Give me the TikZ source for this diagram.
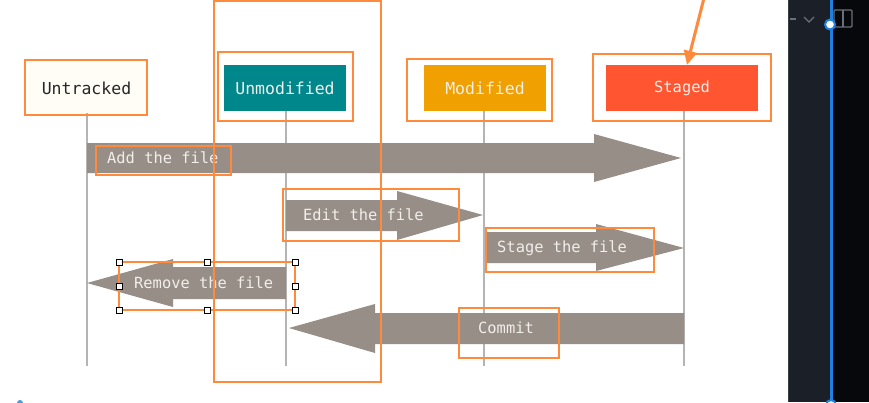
\documentclass[tikz,border=0pt]{standalone}
\usepackage{fontspec}
\newfontfamily\monofnt{DejaVu Sans Mono}
\usetikzlibrary{arrows.meta}
\definecolor{arrowgrey}{HTML}{968E87}
\definecolor{lifegrey}{HTML}{B4B4B4}
\definecolor{annot}{HTML}{FF8A3C}
\definecolor{tealc}{HTML}{00878C}
\definecolor{goldc}{HTML}{F0A000}
\definecolor{redc}{HTML}{FF5530}
\definecolor{creamc}{HTML}{FFFDF6}
\definecolor{panelc}{HTML}{1B1F28}
\definecolor{panelk}{HTML}{06080B}
\definecolor{panelline}{HTML}{3A3F48}
\definecolor{bluec}{HTML}{1E80E0}
\definecolor{iconc}{HTML}{6A6F78}
\definecolor{lighttext}{HTML}{F2EEEA}
\tikzset{
  header/.style={inner sep=0pt, font=\monofnt\fontsize{16.5}{18}\selectfont},
  lifeline/.style={draw=lifegrey, line width=1.2pt},
  blockarrow/.style={fill=arrowgrey, draw=none},
  arrowlabel/.style={text=lighttext, inner sep=0pt, font=\monofnt\fontsize{15.4}{17}\selectfont},
  annotbox/.style={draw=annot, line width=2.2pt},
  handle/.style={draw=black, fill=white, line width=0.8pt, minimum size=6pt, inner sep=0pt},
}
\begin{document}
\begin{tikzpicture}[x=1pt,y=-1pt]
\useasboundingbox (0,0) rectangle (869,402);
\fill[white] (0,0) rectangle (869,402);

% header nodes
\node[header, fill=creamc, text=black!85, minimum width=117pt, minimum height=50pt] (untracked) at (86.5,88) {Untracked};
\node[header, fill=tealc, text=lighttext, minimum width=122pt, minimum height=46pt] (unmodified) at (285,88) {Unmodified};
\node[header, fill=goldc, text=lighttext, minimum width=122pt, minimum height=46pt] (modified) at (485,88) {Modified};
\node[header, fill=redc, text=lighttext, minimum width=152pt, minimum height=46pt, font=\monofnt\fontsize{15.4}{17}\selectfont] (staged) at (682,88) {Staged};

% lifeline ends
\coordinate (e1) at (87,366);
\coordinate (e2) at (286,366);
\coordinate (e3) at (484,366);
\coordinate (e4) at (684,366);
\draw[lifeline] (untracked.south -| e1) -- (e1);
\draw[lifeline] (unmodified.south -| e2) -- (e2);
\draw[lifeline] (modified.south -| e3) -- (e3);
\draw[lifeline] (staged.south -| e4) -- (e4);

% block arrows
\fill[blockarrow] (87,143) -- (594,143) -- (594,134) -- (681,158) -- (594,182) -- (594,173) -- (87,173) -- cycle;
\fill[blockarrow] (286,200) -- (397,200) -- (397,191) -- (483,215) -- (397,240) -- (397,231) -- (286,231) -- cycle;
\fill[blockarrow] (486,232) -- (596,232) -- (596,224) -- (684,248) -- (596,271) -- (596,263) -- (486,263) -- cycle;
\fill[blockarrow] (286,267) -- (173,267) -- (173,259) -- (87,283) -- (173,307) -- (173,299) -- (286,299) -- cycle;
\fill[blockarrow] (684,313) -- (375,313) -- (375,304) -- (289,328) -- (375,353) -- (375,344) -- (684,344) -- cycle;

% labels
\node[arrowlabel, anchor=west] (ladd) at (107,158) {Add the file};
\node[arrowlabel, anchor=west] (ledit) at (303,215) {Edit the file};
\node[arrowlabel, anchor=west] (lstage) at (497,248) {Stage the file};
\node[arrowlabel, anchor=west] (lremove) at (134,283) {Remove the file};
\node[arrowlabel] (lcommit) at (506,328) {Commit};

% annotation boxes
\draw[annotbox] (214,1) rectangle (381,382);
\draw[annotbox] (25,60) rectangle (147,115);
\draw[annotbox] (218,52) rectangle (353,121);
\draw[annotbox] (407,59) rectangle (552,121);
\draw[annotbox] (593,54) rectangle (771,121);
\draw[annotbox] (96,146) rectangle (231,175);
\draw[annotbox] (283,189) rectangle (459,241);
\draw[annotbox] (486,228) rectangle (654,272);
\draw[annotbox] (459,308) rectangle (559,358);
\draw[annotbox] (119,262) rectangle (295,310);
\foreach \hx/\hy in {119/262,207/262,295/262,119/286,295/286,119/310,207/310,295/310}
  \node[handle] at (\hx,\hy) {};

% annotation arrow
\coordinate (astart) at (704,-2);
\draw[annot, line width=3pt, -{Triangle[length=14pt,width=13pt]}] (astart) -- (staged.north west -| 687,54);

% right panel
\fill[panelc] (788,0) rectangle (831,402);
\fill[panelk] (831,0) rectangle (869,402);
\draw[panelline, line width=1pt] (788.5,0) -- (788.5,402);
\draw[iconc, line width=1.3pt] (790,19) -- (796,19);
\draw[iconc, line width=1.1pt] (804,17) -- (809,22) -- (814,17);
\draw[iconc, line width=1.2pt, rounded corners=1pt] (834,10) rectangle (852,27);
\draw[iconc, line width=1.2pt] (843,10) -- (843,27);
\draw[bluec, line width=3pt] (831,0) -- (831,402);
\draw[bluec, fill=white, line width=2pt] (830,24.5) circle (5);
\draw[bluec, fill=white, line width=2pt] (831,405) circle (5);
\fill[bluec!80] (20,403) circle (3);
\end{tikzpicture}
\end{document}
